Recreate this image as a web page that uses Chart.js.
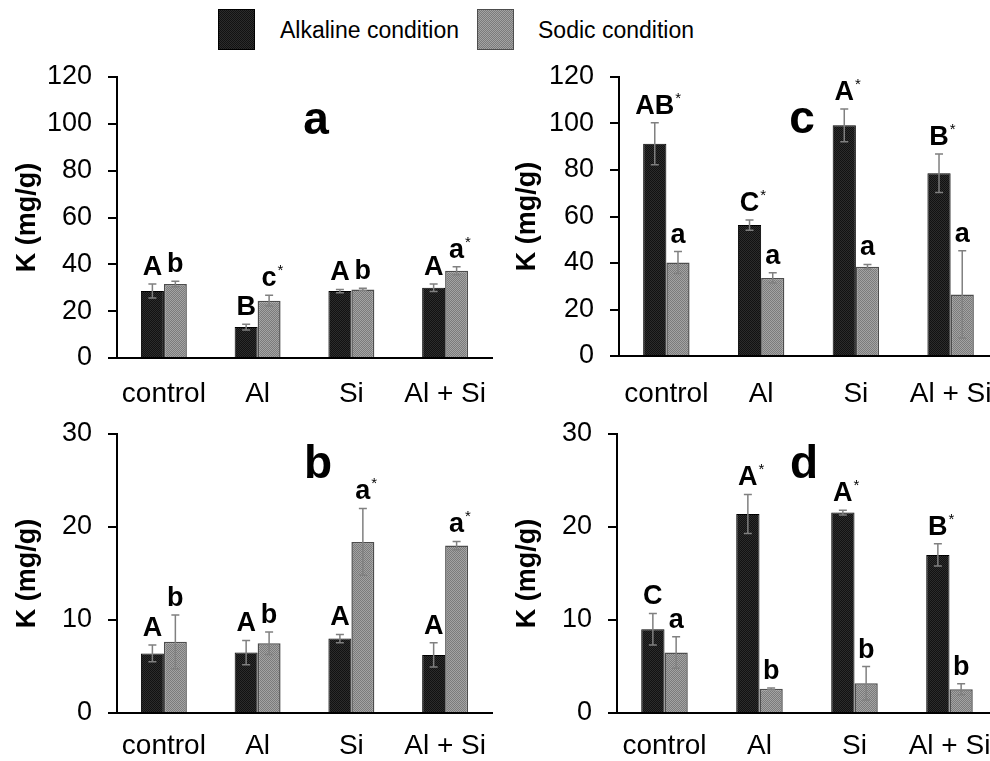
<!DOCTYPE html>
<html>
<head>
<meta charset="utf-8">
<script src="https://cdn.jsdelivr.net/npm/chart.js@4.4.1/dist/chart.umd.min.js"></script>
<style>
  html, body { margin: 0; padding: 0; background: #fff; }
  body { width: 990px; height: 761px; overflow: hidden; position: relative;
         font-family: "Liberation Sans", Arial, sans-serif; }
  canvas { position: absolute; }
  .lg-box { position: absolute; top: 9px; width: 37px; height: 41px; box-sizing: border-box; }
  .lg-text { position: absolute; top: 19px; font-size: 23px; line-height: 23px; color: #000; white-space: nowrap; }
</style>
</head>
<body>
<div id="legend"></div>
<canvas id="chartA" width="495" height="345" style="left:0;top:60px"></canvas>
<canvas id="chartC" width="510" height="345" style="left:495px;top:60px"></canvas>
<canvas id="chartB" width="495" height="356" style="left:0;top:405px"></canvas>
<canvas id="chartD" width="510" height="356" style="left:495px;top:405px"></canvas>
<script>
// ─────────────────────────────────────────
// DATA
// ─────────────────────────────────────────

const treatments  = ["control", "Al", "Si", "Al + Si"];
const seriesNames = ["Alkaline condition", "Sodic condition"];
const yTicksTop    = [0, 20, 40, 60, 80, 100, 120];
const yTicksBottom = [0, 10, 20, 30];

// panel a
const alkalineA        = [28.6, 13.2, 28.6, 30.0];
const alkalineErrA     = [3.0, 1.2, 0.7, 1.6];
const sodicA           = [31.6, 24.5, 29.3, 37.3];
const sodicErrA        = [1.2, 2.3, 0.5, 1.7];
const alkalineLettersA = ["A", "B", "A", "A"];
const sodicLettersA    = ["b", "c*", "b", "a*"];

// panel b
const alkalineB        = [6.4, 6.5, 8.0, 6.25];
const alkalineErrB     = [0.9, 1.3, 0.45, 1.3];
const sodicB           = [7.65, 7.5, 18.4, 18.0];
const sodicErrB        = [2.9, 1.2, 3.6, 0.45];
const alkalineLettersB = ["A", "A", "A", "A"];
const sodicLettersB    = ["b", "b", "a*", "a*"];

// panel c
const alkalineC        = [91.3, 56.3, 99.2, 78.6];
const alkalineErrC     = [9.0, 2.2, 7.0, 8.3];
const sodicC           = [40.2, 33.6, 38.4, 26.5];
const sodicErrC        = [4.7, 2.2, 1.0, 18.8];
const alkalineLettersC = ["AB*", "C*", "A*", "B*"];
const sodicLettersC    = ["a", "a", "a", "a"];

// panel d
const alkalineD        = [9.0, 21.4, 21.55, 17.0];
const alkalineErrD     = [1.7, 2.1, 0.25, 1.2];
const sodicD           = [6.5, 2.6, 3.2, 2.55];
const sodicErrD        = [1.7, 0.1, 1.8, 0.6];
const alkalineLettersD = ["C", "A*", "A*", "B*"];
const sodicLettersD    = ["a", "b", "b", "b"];

// ─────────────────────────────────────────
// TEXTURED FILLS
// ─────────────────────────────────────────

const FONT = "'Liberation Sans', Arial, sans-serif";

function makeTile(c1, c2) {
  const t = document.createElement("canvas");
  t.width = 2; t.height = 2;
  const g = t.getContext("2d");
  g.fillStyle = c1; g.fillRect(0, 0, 2, 2);
  g.fillStyle = c2; g.fillRect(0, 0, 1, 1); g.fillRect(1, 1, 1, 1);
  return t;
}
const blackTile = makeTile("#121212", "#2c2c2c");
const grayTile  = makeTile("#7b7b7b", "#a3a3a3");
const pctx = document.createElement("canvas").getContext("2d");
const blackFill = pctx.createPattern(blackTile, "repeat");
const grayFill  = pctx.createPattern(grayTile, "repeat");

// ─────────────────────────────────────────
// LEGEND
// ─────────────────────────────────────────

const legend = document.getElementById("legend");
[
  { box: 218, text: 280, tile: blackTile, border: "1px solid #000" },
  { box: 477, text: 538, tile: grayTile,  border: "1.5px solid #4d4d4d" }
].forEach((l, i) => {
  legend.innerHTML += `
    <div class="lg-box" style="left:${l.box}px;border:${l.border};
         background-image:url(${l.tile.toDataURL()})"></div>
    <div class="lg-text" style="left:${l.text}px">${seriesNames[i]}</div>`;
});

// ─────────────────────────────────────────
// ERROR BARS + LETTERS
// ─────────────────────────────────────────

const annotate = {
  id: "annotate",
  afterDatasetsDraw(chart, args, opts) {
    const ctx = chart.ctx;
    const y = chart.scales.y;
    ctx.save();
    chart.data.datasets.forEach((ds, i) => {
      chart.getDatasetMeta(i).data.forEach((bar, j) => {
        const v = ds.data[j], e = ds.errors[j];
        const top = y.getPixelForValue(v + e);
        const bot = y.getPixelForValue(v - e);
        ctx.strokeStyle = "#808080";
        ctx.lineWidth = 1.5;
        ctx.beginPath();
        ctx.moveTo(bar.x, top);     ctx.lineTo(bar.x, bot);
        ctx.moveTo(bar.x - 4, top); ctx.lineTo(bar.x + 4, top);
        ctx.moveTo(bar.x - 4, bot); ctx.lineTo(bar.x + 4, bot);
        ctx.stroke();

        const raw  = ds.letters[j];
        const star = raw.endsWith("*");
        const txt  = star ? raw.slice(0, -1) : raw;
        const base = top - 9;
        ctx.fillStyle = "#000";
        ctx.textBaseline = "alphabetic";
        ctx.textAlign = "center";
        ctx.font = "bold 27px " + FONT;
        ctx.fillText(txt, bar.x, base);
        if (star) {
          const w = ctx.measureText(txt).width;
          ctx.font = "15px " + FONT;
          ctx.textAlign = "left";
          ctx.fillText("*", bar.x + w / 2 + 1, base - 11);
        }
      });
    });
    ctx.font = "bold 46px " + FONT;
    ctx.textAlign = "center";
    ctx.fillStyle = "#000";
    ctx.fillText(opts.text, opts.x, opts.y);
    ctx.restore();
  }
};

// ─────────────────────────────────────────
// PANELS
// ─────────────────────────────────────────

function makePanel(id, p) {
  new Chart(document.getElementById(id), {
    type: "bar",
    data: {
      labels: treatments,
      datasets: [{
        label: seriesNames[0],
        data: p.alk, errors: p.alkErr, letters: p.alkLet,
        backgroundColor: blackFill, borderColor: "#000", borderWidth: 1,
        categoryPercentage: 0.49, barPercentage: 1
      }, {
        label: seriesNames[1],
        data: p.sod, errors: p.sodErr, letters: p.sodLet,
        backgroundColor: grayFill, borderColor: "#4d4d4d", borderWidth: 1.5,
        categoryPercentage: 0.49, barPercentage: 1
      }]
    },
    options: {
      responsive: false,
      animation: false,
      layout: { padding: p.pad },
      plugins: {
        legend: { display: false },
        tooltip: { enabled: false },
        annotate: p.letter
      },
      scales: {
        x: {
          grid: { display: false, drawTicks: false },
          border: { color: "#000", width: 2 },
          ticks: { color: "#000", font: { size: 28, family: FONT },
                   padding: p.xp, maxRotation: 0, autoSkip: false },
          afterFit: s => { s.height = p.xh; s.paddingLeft = 0; s.paddingRight = 0; }
        },
        y: {
          min: 0,
          max: p.ticks[p.ticks.length - 1],
          afterBuildTicks: s => { s.ticks = p.ticks.map(v => ({ value: v })); },
          grid: { drawOnChartArea: false, tickLength: 9, color: "#000", lineWidth: 2 },
          border: { color: "#000", width: 2 },
          ticks: { color: "#000", font: { size: 27, family: FONT }, padding: 16 },
          title: { display: true, text: "K (mg/g)", color: "#000",
                   font: { size: 27, weight: "bold", family: FONT },
                   padding: { top: p.tp, bottom: 0 } },
          afterFit: s => { s.width = p.yw; s.paddingTop = 0; s.paddingBottom = 0; }
        }
      }
    },
    plugins: [annotate]
  });
}

makePanel("chartA", {
  alk: alkalineA, alkErr: alkalineErrA, alkLet: alkalineLettersA,
  sod: sodicA, sodErr: sodicErrA, sodLet: sodicLettersA,
  ticks: yTicksTop, yw: 117, xh: 47, tp: 11, xp: 19,
  pad: { left: 0, right: 3, top: 17, bottom: 0 },
  letter: { text: "a", x: 316, y: 74 }
});

makePanel("chartC", {
  alk: alkalineC, alkErr: alkalineErrC, alkLet: alkalineLettersC,
  sod: sodicC, sodErr: sodicErrC, sodLet: sodicLettersC,
  ticks: yTicksTop, yw: 124, xh: 49, tp: 16, xp: 21,
  pad: { left: 0, right: 7, top: 17, bottom: 0 },
  letter: { text: "c", x: 307, y: 73 }
});

makePanel("chartB", {
  alk: alkalineB, alkErr: alkalineErrB, alkLet: alkalineLettersB,
  sod: sodicB, sodErr: sodicErrB, sodLet: sodicLettersB,
  ticks: yTicksBottom, yw: 117, xh: 48, tp: 11, xp: 16,
  pad: { left: 0, right: 3, top: 29, bottom: 0 },
  letter: { text: "b", x: 318, y: 73 }
});

makePanel("chartD", {
  alk: alkalineD, alkErr: alkalineErrD, alkLet: alkalineLettersD,
  sod: sodicD, sodErr: sodicErrD, sodLet: sodicLettersD,
  ticks: yTicksBottom, yw: 122, xh: 48, tp: 16, xp: 16,
  pad: { left: 0, right: 8, top: 29, bottom: 0 },
  letter: { text: "d", x: 309, y: 73 }
});
</script>
</body>
</html>
